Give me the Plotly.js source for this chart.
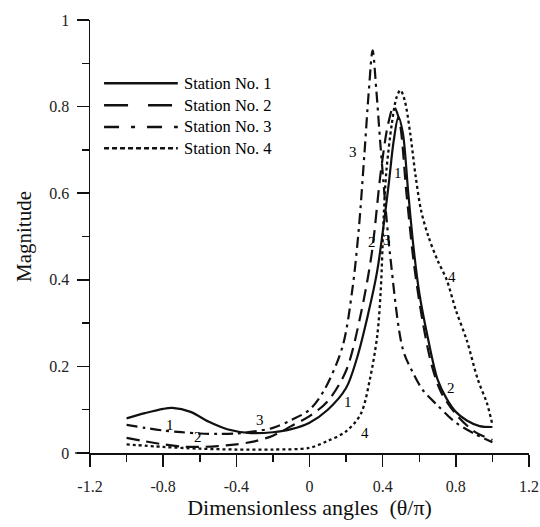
<!DOCTYPE html>
<html>
<head>
<meta charset="utf-8">
<script src="https://cdn.plot.ly/plotly-3.0.1.min.js"></script>
<style>html,body{margin:0;padding:0;background:#fff;}#chart{width:540px;height:527px;}</style>
</head>
<body>
<div id="chart"></div>
<script>
// ---- data ----
const s1x = [-1, -0.9, -0.8, -0.75, -0.65, -0.55, -0.45, -0.32, -0.2, -0.1, 0, 0.1, 0.2, 0.26, 0.32, 0.37, 0.43, 0.46, 0.486, 0.51, 0.54, 0.57, 0.6, 0.645, 0.7, 0.75, 0.8, 0.86, 0.93, 1.0];
const s1y = [0.08, 0.092, 0.102, 0.104, 0.095, 0.072, 0.055, 0.046, 0.048, 0.055, 0.07, 0.1, 0.15, 0.22, 0.32, 0.42, 0.61, 0.72, 0.776, 0.74, 0.6, 0.47, 0.37, 0.27, 0.17, 0.125, 0.095, 0.075, 0.062, 0.06];

const s2x = [-1, -0.9, -0.8, -0.7, -0.6, -0.5, -0.4, -0.3, -0.2, -0.1, 0, 0.1, 0.2, 0.28, 0.34, 0.39, 0.43, 0.46, 0.49, 0.53, 0.57, 0.62, 0.67, 0.72, 0.8, 0.9, 1.0];
const s2y = [0.035, 0.027, 0.02, 0.015, 0.014, 0.016, 0.02, 0.027, 0.04, 0.062, 0.085, 0.12, 0.19, 0.32, 0.46, 0.65, 0.76, 0.8, 0.77, 0.6, 0.44, 0.3, 0.2, 0.14, 0.09, 0.05, 0.03];

const s3x = [-1, -0.9, -0.8, -0.7, -0.6, -0.5, -0.4, -0.3, -0.2, -0.1, 0, 0.08, 0.18, 0.235, 0.27, 0.3, 0.325, 0.345, 0.365, 0.39, 0.44, 0.51, 0.56, 0.62, 0.7, 0.8, 0.9, 1.0];
const s3y = [0.065, 0.058, 0.052, 0.048, 0.045, 0.044, 0.045, 0.05, 0.058, 0.076, 0.1, 0.145, 0.245, 0.38, 0.52, 0.69, 0.84, 0.93, 0.84, 0.7, 0.46, 0.24, 0.19, 0.145, 0.11, 0.07, 0.045, 0.025];

const s4x = [-1, -0.8, -0.6, -0.4, -0.2, 0, 0.1, 0.2, 0.28, 0.33, 0.37, 0.39, 0.405, 0.42, 0.45, 0.475, 0.497, 0.52, 0.55, 0.58, 0.61, 0.65, 0.7, 0.75, 0.8, 0.86, 0.92, 0.97, 1.0];
const s4y = [0.02, 0.014, 0.01, 0.008, 0.008, 0.012, 0.028, 0.05, 0.09, 0.17, 0.27, 0.38, 0.54, 0.65, 0.76, 0.82, 0.838, 0.815, 0.74, 0.64, 0.56, 0.5, 0.445, 0.4, 0.33, 0.26, 0.17, 0.115, 0.065];

const seriesNames = ['Station No. 1', 'Station No. 2', 'Station No. 3', 'Station No. 4'];

const xTickVals = [-1.2, -0.8, -0.4, 0, 0.4, 0.8, 1.2];
const xTickText = ['-1.2', '-0.8', '-0.4', '0', '0.4', '0.8', '1.2'];
const yTickVals = [0, 0.2, 0.4, 0.6, 0.8, 1];
const yTickText = ['0', '0.2', '0.4', '0.6', '0.8', '1'];

// curve number labels: [text, x, y]
const curveLabels = [
  ['3', 0.24, 0.695], ['1', 0.486, 0.647], ['2', 0.34, 0.487], ['3', 0.425, 0.492],
  ['4', 0.78, 0.407], ['2', 0.776, 0.15], ['1', 0.213, 0.118], ['4', 0.306, 0.046],
  ['1', -0.76, 0.065], ['2', -0.61, 0.037], ['3', -0.27, 0.076]
];

// ---- styling ----
const FONT = 'Liberation Serif';
const curveDash = ['solid', '13px,7px', '11px,5px,3px,5px', '3px,3px'];
const legendDash = ['solid', '24px,20px', '15px,12px,4px,12px', '5px,3px'];

const xs = [s1x, s2x, s3x, s4x];
const ys = [s1y, s2y, s3y, s4y];

const traces = xs.map((x, i) => ({
  x: x, y: ys[i], type: 'scatter', mode: 'lines', name: seriesNames[i],
  line: {color: '#111', width: i === 3 ? 2.3 : 2.2, dash: curveDash[i], shape: 'spline', smoothing: 0.9},
  showlegend: false, hoverinfo: 'skip'
}));

const shapes = [];
const annotations = [];
// manual legend (line samples + text) in paper coordinates
const legY = [0.854, 0.803, 0.753, 0.704];
seriesNames.forEach((n, i) => {
  shapes.push({type: 'line', xref: 'paper', yref: 'paper', x0: 0.032, x1: 0.2, y0: legY[i], y1: legY[i],
    line: {color: '#111', width: 2.5, dash: legendDash[i]}});
  annotations.push({xref: 'paper', yref: 'paper', x: 0.21, y: legY[i], text: n, showarrow: false,
    xanchor: 'left', yanchor: 'middle', font: {family: FONT, size: 16.5, color: '#000'}});
});
curveLabels.forEach(c => {
  annotations.push({x: c[1], y: c[2], text: c[0], showarrow: false, xanchor: 'center', yanchor: 'middle',
    font: {family: FONT, size: 15, color: '#000'}});
});
// axis line overhangs at origin
shapes.push({type: 'line', xref: 'paper', yref: 'paper', x0: -0.034, x1: 0, y0: 0, y1: 0, line: {color: '#111', width: 1.5}});
shapes.push({type: 'line', xref: 'paper', yref: 'paper', x0: 0, x1: 0, y0: -0.012, y1: 0, line: {color: '#111', width: 1.5}});

const layout = {
  width: 540, height: 527,
  margin: {l: 90, r: 11, t: 20, b: 74},
  paper_bgcolor: '#fff', plot_bgcolor: '#fff',
  font: {family: FONT, color: '#111'},
  showlegend: false,
  xaxis: {
    range: [-1.2, 1.2], showgrid: false, zeroline: false,
    showline: true, linecolor: '#111', linewidth: 1.5,
    ticks: 'outside', ticklen: 12, tickwidth: 1.5, tickcolor: '#111',
    ticklabelstandoff: 6,
    tickvals: xTickVals, ticktext: xTickText,
    tickfont: {family: FONT, size: 16, color: '#222'},
    minor: {tickvals: [-1, -0.6, -0.2, 0.2, 0.6, 1.0], ticks: 'outside', ticklen: 7, tickwidth: 1.5, tickcolor: '#111'},
    title: {text: 'Dimensionless angles  (θ/π)', font: {family: FONT, size: 22, color: '#111'}, standoff: 6}
  },
  yaxis: {
    range: [0, 1], showgrid: false, zeroline: false,
    showline: true, linecolor: '#111', linewidth: 1.5,
    ticks: 'outside', ticklen: 12, tickwidth: 1.5, tickcolor: '#111',
    ticklabelstandoff: 4,
    tickvals: yTickVals, ticktext: yTickText,
    tickfont: {family: FONT, size: 16, color: '#222'},
    minor: {tickvals: [0.1, 0.3, 0.5, 0.7, 0.9], ticks: 'outside', ticklen: 7, tickwidth: 1.5, tickcolor: '#111'},
    title: {text: 'Magnitude', font: {family: FONT, size: 21, color: '#111'}, standoff: 12}
  },
  shapes: shapes,
  annotations: annotations
};

Plotly.newPlot('chart', traces, layout, {staticPlot: true, displayModeBar: false});
</script>
</body>
</html>
